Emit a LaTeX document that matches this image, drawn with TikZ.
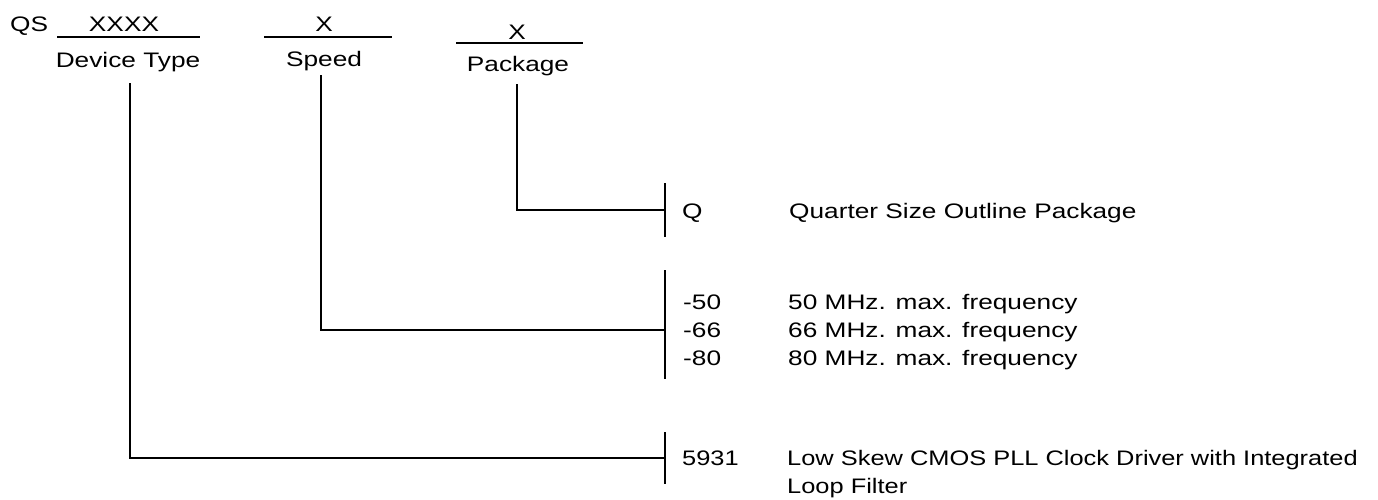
\documentclass[tikz,border=0pt]{standalone}
\usepackage{fontspec}
\setmainfont{Liberation Sans}[FakeStretch=1.25]

\begin{document}
\begin{tikzpicture}[x=1pt,y=-1pt,
    txt/.style={inner sep=0pt, font=\fontsize{21}{25}\selectfont},
    lbl/.style={txt, anchor=base},
    item/.style={txt, anchor=base west},
    tight/.style={font=\fontsize{21}{25}\selectfont\addfontfeature{FakeStretch=1.21}},
    uline/.style={line width=1.3pt},
    lead/.style={line width=1.3pt},
    bar/.style={line width=1.1pt}]
            \useasboundingbox (0,0) rectangle (1378,499);

            % part number fields
            \node[item] (QS) at (10,31) {QS};
            \node[lbl] (X1) at (124,31) {XXXX};
            \node[lbl] (X2) at (324,31) {X};
            \node[lbl] (X3) at (517,39) {X};
            \draw[uline] (57,37) -- (200,37);
            \draw[uline] (264,37) -- (392,37);
            \draw[uline] (456,43) -- (583,43);
            \node[lbl] (DT) at (128,67) {Device Type};
            \node[lbl] (SP) at (324,66) {Speed};
            \node[lbl] (PK) at (518,71) {Package};

            % start of the leads
            \coordinate (DT0) at (130,83);
            \coordinate (SP0) at (321,75);
            \coordinate (PK0) at (517,84);

            % option bars
            \coordinate (PKbar) at (665,210);
            \coordinate (SPbar) at (665,330);
            \coordinate (DTbar) at (665,458);
            \draw[bar] (665,183) -- (665,237);
            \draw[bar] (665,270) -- (665,379);
            \draw[bar] (665,432) -- (665,484);

            \draw[lead] (PK0) |- (PKbar);
            \draw[lead, line width=2pt] (SP0) |- (SPbar);
            \draw[lead] (DT0) |- (DTbar);

            % options
            \node[item] (Q) at (682,218) {Q};
            \node[item] (Qd) at (789,218) {Quarter Size Outline Package};
            \node[item] (S50) at (683,309) {-50};
            \node[item] (S50d) at (788,309) {50 MHz. max. frequency};
            \node[item] (S66) at (683,337) {-66};
            \node[item] (S66d) at (788,337) {66 MHz. max. frequency};
            \node[item] (S80) at (683,365) {-80};
            \node[item] (S80d) at (788,365) {80 MHz. max. frequency};
            \node[item, tight] (D5931) at (682,465) {5931};
            \node[item, tight] (Dd) at (787,465) {Low Skew CMOS PLL Clock Driver with Integrated};
            \node[item, tight] (Dd2) at (787,493) {Loop Filter};

        \end{tikzpicture}
\end{document}
